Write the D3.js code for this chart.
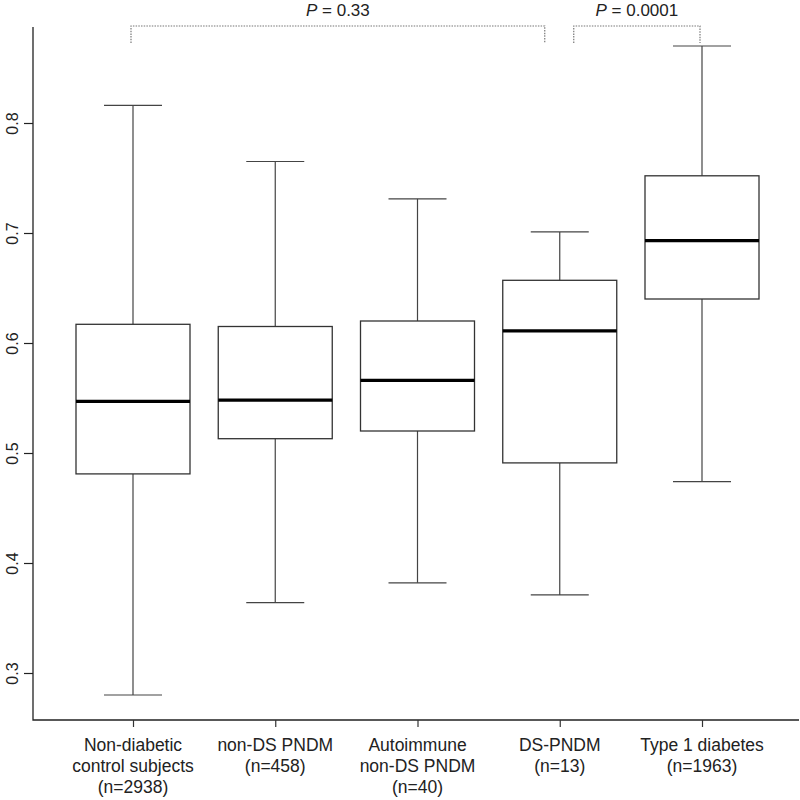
<!DOCTYPE html>
<html><head><meta charset="utf-8">
<script src="https://cdn.jsdelivr.net/npm/d3@7"></script>
<style>body{margin:0;background:#fff}svg{display:block}text{font-family:"Liberation Sans",Arial,sans-serif;fill:#222}</style>
</head><body>
<script>
const categories = [
  ["Non-diabetic","control subjects","(n=2938)"],
  ["non-DS PNDM","(n=458)"],
  ["Autoimmune","non-DS PNDM","(n=40)"],
  ["DS-PNDM","(n=13)"],
  ["Type 1 diabetes","(n=1963)"]
];
const whiskerLow  = [0.280, 0.364, 0.382, 0.371, 0.474];
const q1          = [0.481, 0.513, 0.520, 0.491, 0.640];
const median      = [0.547, 0.548, 0.566, 0.611, 0.693];
const q3          = [0.617, 0.615, 0.620, 0.657, 0.752];
const whiskerHigh = [0.816, 0.765, 0.731, 0.701, 0.870];
const yTicks = [0.3, 0.4, 0.5, 0.6, 0.7, 0.8];
const comparisons = [{from:0, to:3, label:"0.33"}, {from:3, to:4, label:"0.0001"}];

const W = 800, H = 800;
const svg = d3.select("body").append("svg").attr("width", W).attr("height", H);
const idx = d3.range(categories.length);
const x = d3.scaleLinear().domain([0, 4]).range([133, 702]);
const y = d3.scaleLinear().domain([0.3, 0.8]).range([673, 123]);
const boxHalf = 57, capHalf = 29;
const axisX = 33, axisBottom = 720, axisTop = 27, axisRight = 799;
const stroke = "#333";

// frame (L shape)
svg.append("path").attr("d", `M${axisX},${axisTop}V${axisBottom}H${axisRight}`)
  .attr("fill","none").attr("stroke","#222").attr("stroke-width",1.3);

// y axis
const gy = svg.append("g").attr("transform", `translate(${axisX},0)`)
  .call(d3.axisLeft(y).tickValues(yTicks).tickSize(9).tickFormat(d3.format(".1f")));
gy.select(".domain").remove();
gy.selectAll(".tick line").attr("stroke","#222").attr("stroke-width",1.2);
gy.selectAll(".tick text").attr("transform","rotate(-90)").attr("x",0).attr("y",-15)
  .attr("dy",0).attr("text-anchor","middle").style("font-size","16px");

// x axis ticks
const gx = svg.append("g").attr("transform", `translate(0,${axisBottom})`)
  .call(d3.axisBottom(x).tickValues(idx).tickSize(7).tickFormat(""));
gx.select(".domain").remove();
gx.selectAll(".tick line").attr("stroke","#333").attr("stroke-width",1.2);

// category labels
idx.forEach(i => {
  const t = svg.append("text").attr("x", x(i)).attr("y", 751).attr("text-anchor","middle").style("font-size","17.5px");
  categories[i].forEach((line, k) => t.append("tspan").attr("x", x(i)).attr("dy", k === 0 ? 0 : 21).text(line));
});

// boxes
const g = svg.append("g");
idx.forEach(i => {
  const cx = x(i);
  g.append("line").attr("x1",cx).attr("x2",cx).attr("y1",y(whiskerHigh[i])).attr("y2",y(q3[i])).attr("stroke","#444").attr("stroke-width",1.2);
  g.append("line").attr("x1",cx).attr("x2",cx).attr("y1",y(q1[i])).attr("y2",y(whiskerLow[i])).attr("stroke","#444").attr("stroke-width",1.2);
  [whiskerHigh[i], whiskerLow[i]].forEach(v =>
    g.append("line").attr("x1",cx-capHalf).attr("x2",cx+capHalf).attr("y1",y(v)).attr("y2",y(v)).attr("stroke","#444").attr("stroke-width",1.2));
  g.append("rect").attr("x",cx-boxHalf).attr("width",2*boxHalf).attr("y",y(q3[i])).attr("height",y(q1[i])-y(q3[i]))
    .attr("fill","none").attr("stroke",stroke).attr("stroke-width",1.3);
  g.append("line").attr("x1",cx-boxHalf).attr("x2",cx+boxHalf).attr("y1",y(median[i])).attr("y2",y(median[i])).attr("stroke","#000").attr("stroke-width",3.2);
});

// comparison brackets (ends pulled in slightly where two brackets meet)
const brTop = 26, brBottom = 43;
comparisons.forEach((c, k) => {
  const x1 = x(c.from) + (k === 0 ? -2 : 14), x2 = x(c.to) + (k === 0 ? -15 : -2);
  svg.append("path").attr("d", `M${x1},${brBottom}V${brTop}H${x2}V${brBottom}`)
    .attr("fill","none").attr("stroke","#777").attr("stroke-width",1.2).attr("stroke-dasharray","1.5,1.2");
  const t = svg.append("text").attr("x",(x1+x2)/2).attr("y",16).attr("text-anchor","middle").style("font-size","17px");
  t.append("tspan").style("font-style","italic").text("P");
  t.append("tspan").text(" = " + c.label);
});
</script>
</body></html>
